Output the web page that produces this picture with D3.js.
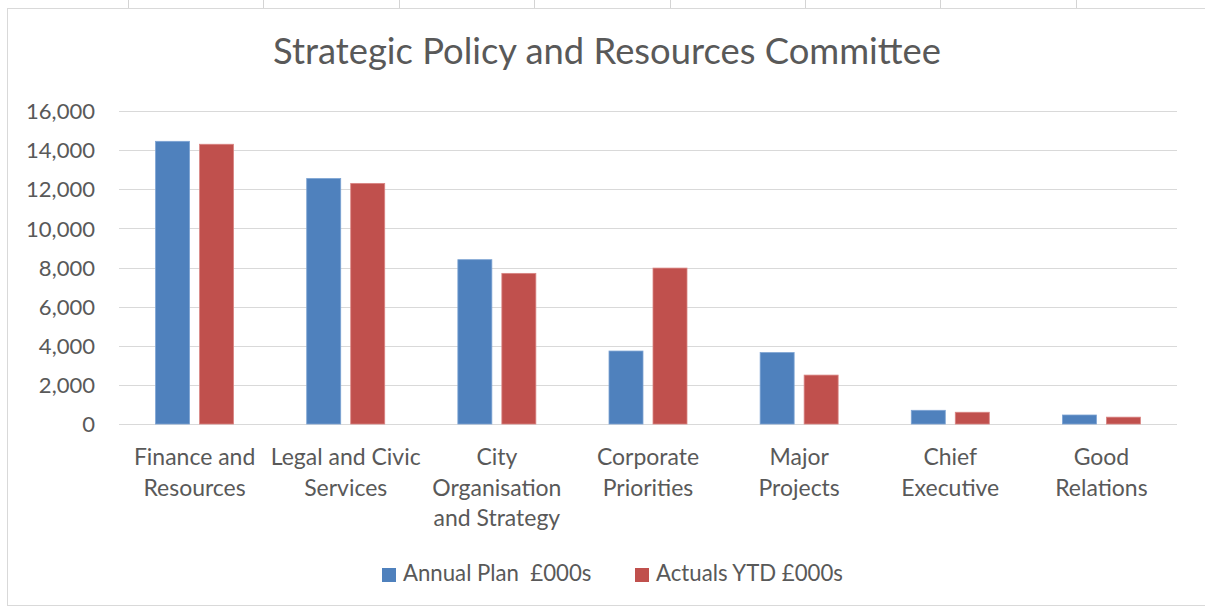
<!DOCTYPE html>
<html><head><meta charset="utf-8">
<script src="https://cdn.jsdelivr.net/npm/d3@7"></script>
<style>
html,body{margin:0;padding:0;background:#fff;}
svg{display:block;}
text{font-family:Lato,"Open Sans",sans-serif;fill:#595959;white-space:pre;}
</style></head>
<body>
<script>
const title = "Strategic Policy and Resources Committee";
const categories = ["Finance and Resources","Legal and Civic Services","City Organisation and Strategy","Corporate Priorities","Major Projects","Chief Executive","Good Relations"];
const categoryLines = [["Finance and","Resources"],["Legal and Civic","Services"],["City","Organisation","and Strategy"],["Corporate","Priorities"],["Major","Projects"],["Chief","Executive"],["Good","Relations"]];
const seriesNames = ["Annual Plan  £000s","Actuals YTD £000s"];
const annualPlan = [14450, 12550, 8400, 3730, 3650, 700, 460];
const actualsYTD = [14300, 12300, 7700, 7970, 2500, 600, 350];
const yTicks = [0, 2000, 4000, 6000, 8000, 10000, 12000, 14000, 16000];
const colors = ["#4F81BD","#C0504D"];

const W = 1205, H = 612;
const svg = d3.select("body").append("svg").attr("width", W).attr("height", H);

// sheet gridline stubs above chart + chart border
const sheetCols = [128, 263, 399, 534, 670, 805, 940, 1076];
svg.selectAll("line.sheet").data(sheetCols).join("line")
  .attr("x1", d => d + 0.5).attr("x2", d => d + 0.5).attr("y1", 0).attr("y2", 8)
  .attr("stroke", "#d4d4d4");
svg.append("rect").attr("x", 7.5).attr("y", 8.5).attr("width", 1210).attr("height", 597)
  .attr("fill", "#fff").attr("stroke", "#d9d9d9");

const x0 = d3.scaleBand().domain(categories).range([119, 1177]).paddingInner(0).paddingOuter(0);
const y = d3.scaleLinear().domain([0, 16000]).range([424, 111]);

function fitFont(sample, target, base) {
  const t = svg.append("text").style("font-size", base + "px").text(sample);
  const w = t.node().getComputedTextLength();
  t.remove();
  return base * target / w;
}

// gridlines
svg.append("g").selectAll("line").data(yTicks).join("line")
  .attr("x1", 119).attr("x2", 1177)
  .attr("y1", d => Math.round(y(d)) + 0.5).attr("y2", d => Math.round(y(d)) + 0.5)
  .attr("stroke", "#d9d9d9").attr("stroke-width", 1);

// y axis
const tickFs = fitFont("16,000", 69, 20);
const yAxis = d3.axisLeft(y).tickValues(yTicks).tickFormat(d3.format(",")).tickSize(0).tickPadding(0);
const gy = svg.append("g").attr("transform", "translate(95,0)").call(yAxis);
gy.select(".domain").remove();
gy.selectAll("text").style("font-size", tickFs + "px").attr("fill", "#595959")
  .style("font-family", "Lato, 'Open Sans', sans-serif").attr("dy", "0.35em");

// bars
const barW = 34, gap = 10;
const series = [annualPlan, actualsYTD];
series.forEach((vals, si) => {
  svg.append("g").selectAll("rect").data(vals).join("rect")
    .attr("x", (d, i) => x0(categories[i]) + x0.bandwidth() / 2 - gap / 2 - barW + si * (barW + gap))
    .attr("width", barW)
    .attr("y", d => y(d))
    .attr("height", d => y(0) - y(d))
    .attr("fill", colors[si])
    .attr("stroke", si === 0 ? "#7da3d3" : "#d98583").attr("stroke-width", 0.8);
});

// category labels
const catFs = fitFont("Legal and Civic", 150, 20);
const cg = svg.append("g");
categories.forEach((c, i) => {
  const t = cg.append("text").attr("text-anchor", "middle")
    .attr("x", x0(c) + x0.bandwidth() / 2).attr("y", 465)
    .style("font-size", catFs + "px");
  categoryLines[i].forEach((ln, j) => {
    t.append("tspan").attr("x", x0(c) + x0.bandwidth() / 2).attr("y", 465 + j * 30.5).text(ln);
  });
});

// title
const titleFs = fitFont(title, 668, 30);
svg.append("text").attr("x", 607).attr("y", 64).attr("text-anchor", "middle")
  .style("font-size", titleFs + "px").text(title);

// legend
const legFs = fitFont(seriesNames[1], 187, 20);
const legX = [382, 635];
seriesNames.forEach((n, i) => {
  svg.append("rect").attr("x", legX[i]).attr("y", 568).attr("width", 14).attr("height", 14)
    .attr("fill", colors[i]);
  svg.append("text").attr("x", legX[i] + 21).attr("y", 581)
    .style("font-size", legFs + "px").text(n);
});
</script>
</body></html>
